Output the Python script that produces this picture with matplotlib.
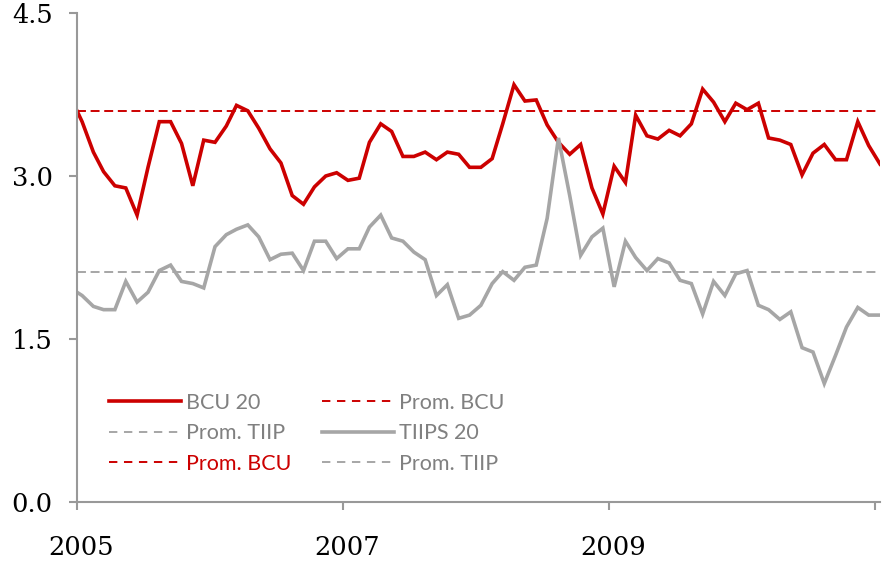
import matplotlib
matplotlib.use("Agg")
import matplotlib.pyplot as plt
import matplotlib.transforms as mtransforms
from matplotlib.lines import Line2D
import pandas as pd

# monthly observations: first point at the start of 2005, then mid-month Jan 2005 .. Jan 2011
dates = [pd.Timestamp("2005-01-01")] + list(
    pd.date_range("2005-01-01", "2011-01-01", freq="MS") + pd.Timedelta(days=14))

bcu_20 = [3.60,
          3.50, 3.22, 3.04, 2.91, 2.89, 2.64, 3.08, 3.50, 3.50, 3.30, 2.91, 3.33,
          3.31, 3.46, 3.65, 3.60, 3.44, 3.25, 3.12, 2.82, 2.74, 2.90, 3.00, 3.03,
          2.96, 2.98, 3.31, 3.48, 3.41, 3.18, 3.18, 3.22, 3.15, 3.22, 3.20, 3.08,
          3.08, 3.16, 3.48, 3.84, 3.69, 3.70, 3.47, 3.31, 3.20, 3.29, 2.89, 2.65,
          3.09, 2.94, 3.56, 3.37, 3.34, 3.42, 3.37, 3.48, 3.80, 3.68, 3.50, 3.67,
          3.61, 3.67, 3.35, 3.33, 3.29, 3.01, 3.21, 3.29, 3.15, 3.15, 3.50, 3.28,
          3.11]

tiips_20 = [1.93,
            1.90, 1.80, 1.77, 1.77, 2.03, 1.84, 1.93, 2.13, 2.18, 2.03, 2.01, 1.97,
            2.35, 2.46, 2.51, 2.55, 2.44, 2.23, 2.28, 2.29, 2.13, 2.40, 2.40, 2.24,
            2.33, 2.33, 2.53, 2.64, 2.43, 2.40, 2.30, 2.23, 1.90, 2.00, 1.69, 1.72,
            1.81, 2.01, 2.12, 2.04, 2.16, 2.18, 2.61, 3.35, 2.82, 2.27, 2.44, 2.52,
            1.98, 2.40, 2.25, 2.13, 2.24, 2.20, 2.04, 2.01, 1.73, 2.03, 1.90, 2.10,
            2.13, 1.81, 1.77, 1.68, 1.75, 1.42, 1.38, 1.09, 1.35, 1.61, 1.79, 1.72,
            1.72]

prom_bcu = 3.60
prom_tiip = 2.12

red = "#CC0000"
grey = "#A6A6A6"
axis_grey = "#999999"

fig = plt.figure(figsize=(8.83, 5.66), dpi=100)
ax = fig.add_axes([0.0872, 0.1131, 0.9094, 0.8639])

ax.plot(dates, bcu_20, color=red, lw=2.6, solid_joinstyle="miter")
ax.plot(dates, tiips_20, color=grey, lw=2.6, solid_joinstyle="miter")
ax.axhline(prom_bcu, color=red, lw=1.4, ls=(0, (4.6, 2.4)))
ax.axhline(prom_tiip, color=grey, lw=1.4, ls=(0, (4.6, 2.4)))

ax.set_xlim(dates[0], dates[-1])
ax.set_ylim(0, 4.5)
ax.set_yticks([0.0, 1.5, 3.0, 4.5])
ax.set_yticklabels(["0.0", "1.5", "3.0", "4.5"])
years = [pd.Timestamp(f"{y}-01-01") for y in (2005, 2007, 2009, 2011)]
ax.set_xticks(years)
ax.set_xticklabels(["2005", "2007", "2009", ""])

for s in ("top", "right"):
    ax.spines[s].set_visible(False)
for s in ("left", "bottom"):
    ax.spines[s].set_color(axis_grey)
    ax.spines[s].set_linewidth(1.5)
ax.tick_params(axis="both", colors=axis_grey, length=6, width=1.5,
               labelcolor="black", labelsize=18.5)
ax.tick_params(axis="y", pad=11.5)
ax.tick_params(axis="x", pad=18)
shift = mtransforms.ScaledTranslation(4.5 / 100, 0, fig.dpi_scale_trans)
for lab in ax.get_xticklabels():
    lab.set_family("DejaVu Serif")
    lab.set_transform(lab.get_transform() + shift)
for lab in ax.get_yticklabels():
    lab.set_family("DejaVu Serif")

dash = (0, (4.3, 3.4))
handles = [
    Line2D([], [], color=red, lw=2.6),
    Line2D([], [], color=grey, lw=1.4, ls=dash),
    Line2D([], [], color=red, lw=1.4, ls=dash),
    Line2D([], [], color=red, lw=1.4, ls=dash),
    Line2D([], [], color=grey, lw=2.6),
    Line2D([], [], color=grey, lw=1.4, ls=dash),
]
labels = ["BCU 20", "Prom. TIIP", "Prom. BCU", "Prom. BCU", "TIIPS 20", "Prom. TIIP"]
leg = ax.legend(handles, labels, ncol=2, frameon=False, loc="lower left",
                bbox_to_anchor=(0.0155, 0.018), handlelength=3.35, handletextpad=0.25,
                columnspacing=1.4, labelspacing=0.49,
                prop={"family": "Lato", "size": 15.5})
for i, t in enumerate(leg.get_texts()):
    t.set_color(red if i == 2 else "#808080")

fig.savefig("out.png", dpi=100)
